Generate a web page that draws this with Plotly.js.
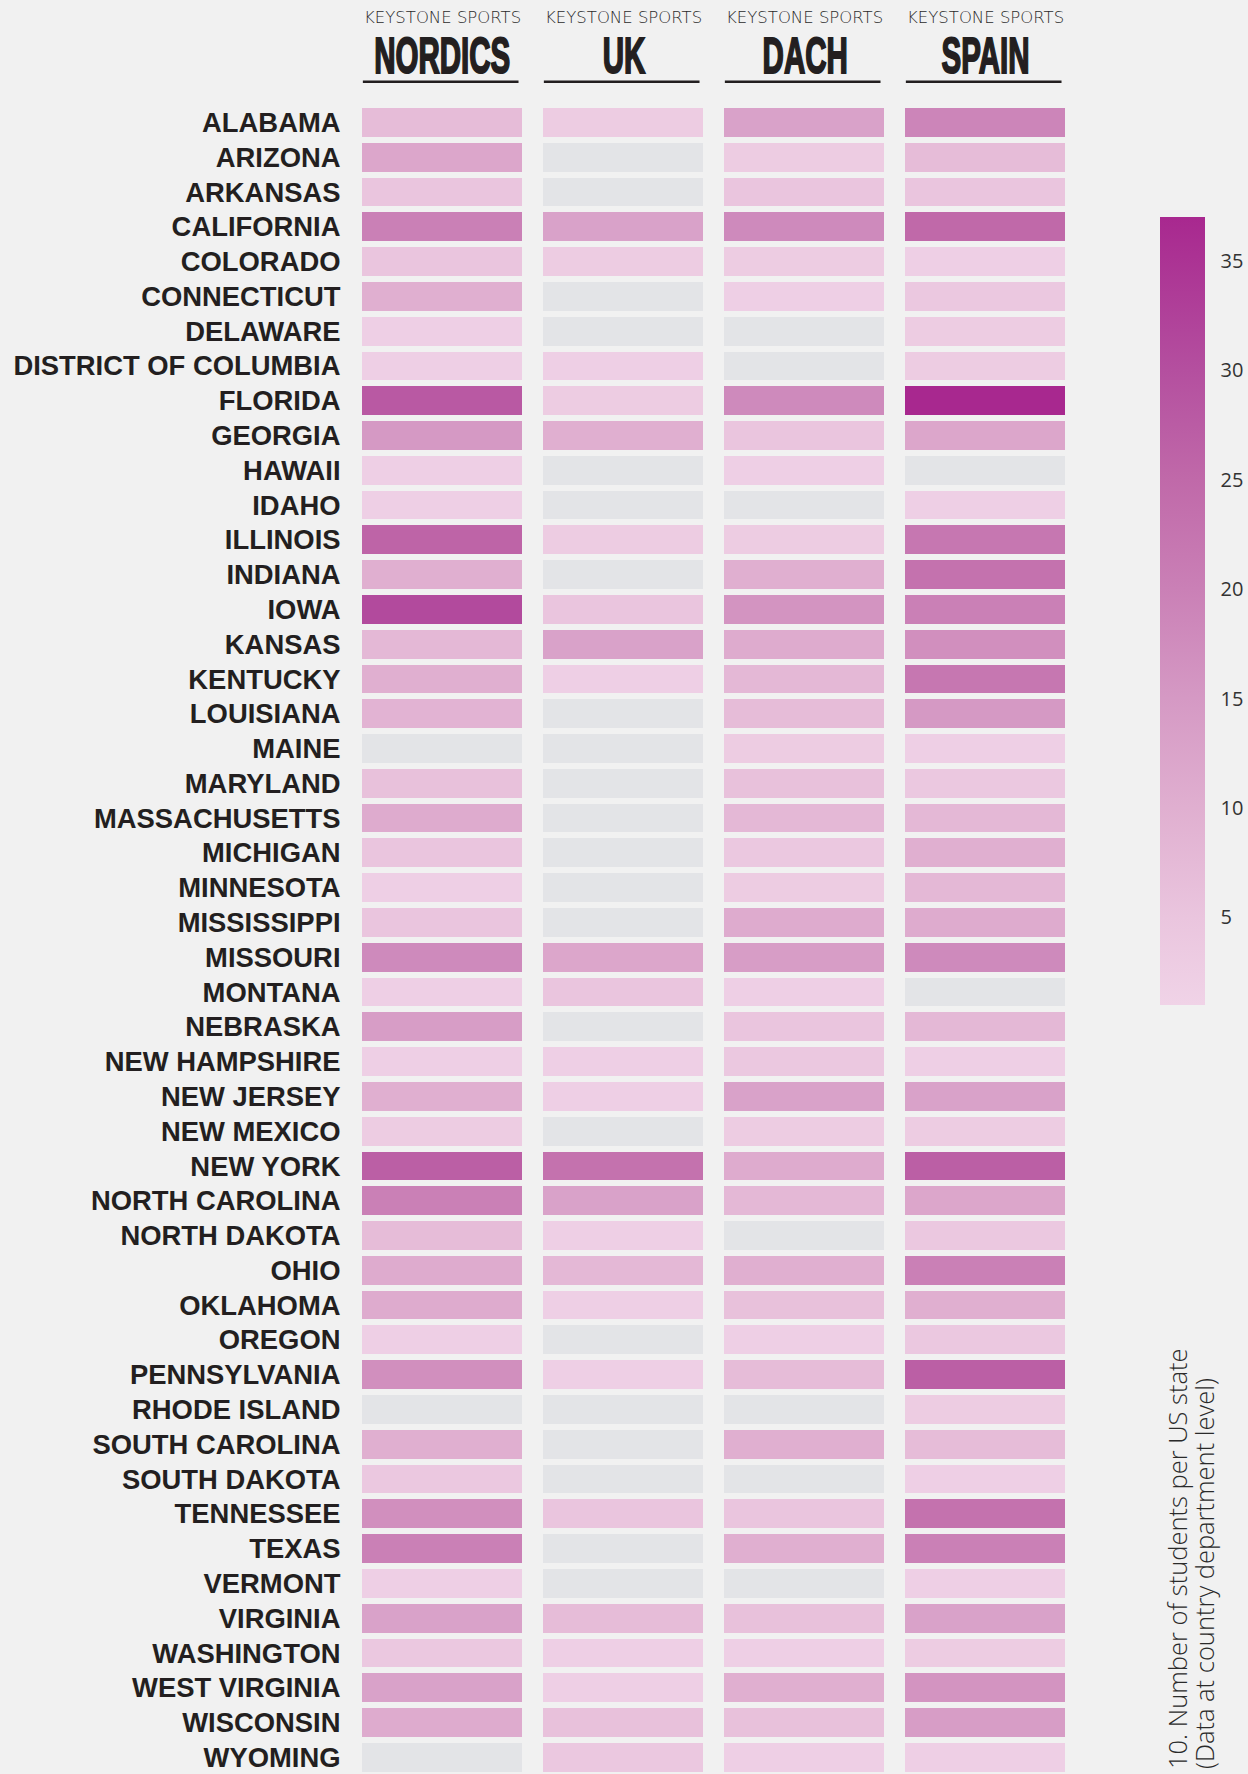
<!DOCTYPE html>
<html>
<head>
<meta charset="utf-8">
<script src="https://cdn.plot.ly/plotly-3.0.1.min.js"></script>
<style>
  html, body { margin: 0; padding: 0; background: #f1f1f1; }
  #chart { width: 1248px; height: 1774px; }
</style>
</head>
<body>
<div id="chart"></div>
<script>
// ---------------- DATA ----------------
const regions = ['NORDICS', 'UK', 'DACH', 'SPAIN'];
const kicker = 'KEYSTONE SPORTS';
const states = [
  'ALABAMA', 'ARIZONA', 'ARKANSAS', 'CALIFORNIA', 'COLORADO', 'CONNECTICUT',
  'DELAWARE', 'DISTRICT OF COLUMBIA', 'FLORIDA', 'GEORGIA', 'HAWAII', 'IDAHO',
  'ILLINOIS', 'INDIANA', 'IOWA', 'KANSAS', 'KENTUCKY', 'LOUISIANA', 'MAINE',
  'MARYLAND', 'MASSACHUSETTS', 'MICHIGAN', 'MINNESOTA', 'MISSISSIPPI',
  'MISSOURI', 'MONTANA', 'NEBRASKA', 'NEW HAMPSHIRE', 'NEW JERSEY',
  'NEW MEXICO', 'NEW YORK', 'NORTH CAROLINA', 'NORTH DAKOTA', 'OHIO',
  'OKLAHOMA', 'OREGON', 'PENNSYLVANIA', 'RHODE ISLAND', 'SOUTH CAROLINA',
  'SOUTH DAKOTA', 'TENNESSEE', 'TEXAS', 'VERMONT', 'VIRGINIA', 'WASHINGTON',
  'WEST VIRGINIA', 'WISCONSIN', 'WYOMING'
];
const nordics = [7, 12, 5, 20, 5, 10, 2, 2, 28, 15, 2, 2, 26, 10, 31, 8, 10, 9, null, 6,
  11, 5, 2, 5, 18, 2, 14, 2, 10, 3, 27, 20, 7, 11, 11, 2, 17, null, 10, 4, 17, 20, 2, 13,
  4, 13, 11, null];
const uk = [3, null, null, 13, 3, null, null, 2, 3, 10, null, null, 3, null, 5, 13, 2, null,
  null, null, null, null, null, null, 12, 5, null, 2, 2, null, 23, 13, 2, 8, 2, null, 2,
  null, null, null, 5, null, null, 7, 2, 2, 6, 4];
const dach = [13, 3, 5, 18, 3, 2, null, null, 18, 5, 2, null, 3, 10, 16, 11, 8, 7, 3, 6,
  8, 4, 3, 11, 14, 2, 5, 4, 13, 3, 11, 8, null, 10, 6, 2, 7, null, 10, null, 5, 10, null,
  6, 2, 10, 6, 2];
const spain = [19, 7, 5, 25, 2, 4, 3, 3, 37, 12, null, 2, 22, 23, 20, 17, 22, 15, 2, 4,
  8, 10, 8, 11, 18, null, 8, 2, 13, 3, 27, 12, 4, 20, 10, 4, 27, 3, 7, 2, 23, 20, 2, 13,
  3, 16, 14, 2];
const colorbarTicks = [5, 10, 15, 20, 25, 30, 35];
const titleLines = ['10. Number of students per US state', '(Data at country department level)'];

// ---------------- BUILD ----------------
const series = [nordics, uk, dach, spain];
const z = states.map((s, r) => series.map(col => col[r]));
const zBg = states.map(() => regions.map(() => 0));

const W = 1248, H = 1774;
const mL = 352, mR = 172, mT = 105, mB = 0;
const plotW = W - mL - mR, plotH = H - mT - mB;
const py = px => 1 + (mT - px) / plotH;       // pixel y -> paper y
const pxX = px => (px - mL) / plotW;          // pixel x -> paper x

const cellGapX = 21, cellGapY = 6;
const ink = '#231f20';

const colorscale = [
  [0.000, '#f0d3e7'],
  [0.111, '#eac5de'],
  [0.250, '#e0afd0'],
  [0.389, '#d599c4'],
  [0.528, '#ca80b6'],
  [0.667, '#c069a9'],
  [0.806, '#b44f9f'],
  [1.000, '#a8288f']
];

const bgTrace = {
  type: 'heatmap', x: regions, y: states, z: zBg,
  colorscale: [[0, '#e3e4e7'], [1, '#e3e4e7']],
  showscale: false, xgap: cellGapX, ygap: cellGapY, hoverinfo: 'skip'
};

const mainTrace = {
  type: 'heatmap', x: regions, y: states, z: z,
  zmin: 1, zmax: 37, colorscale: colorscale,
  xgap: cellGapX, ygap: cellGapY,
  colorbar: {
    thickness: 45, thicknessmode: 'pixels',
    len: 788, lenmode: 'pixels',
    x: pxX(1160), xanchor: 'left', xpad: 0,
    y: (H - 611) / plotH, yanchor: 'middle', ypad: 0,
    outlinewidth: 0,
    tickvals: colorbarTicks,
    ticks: 'outside', ticklen: 12, tickcolor: 'rgba(0,0,0,0)',
    tickfont: { family: 'Open Sans, sans-serif', size: 20, color: '#333333' }
  }
};

const annotations = [];
regions.forEach(r => annotations.push({
  xref: 'x', yref: 'paper', x: r, y: py(17.2), text: kicker, showarrow: false,
  xanchor: 'center', yanchor: 'middle',
  font: { family: 'DejaVu Sans, sans-serif', size: 16.5, color: '#2b2b2b', weight: 300 }
}));
regions.forEach(r => annotations.push({
  xref: 'x', yref: 'paper', x: r, y: py(55.5), text: r, showarrow: false,
  xanchor: 'center', yanchor: 'middle',
  font: { family: 'Liberation Sans, Arial, sans-serif', size: 50, color: ink, weight: 'bold' }
}));
const titleX = [1177, 1204];
titleLines.forEach((t, i) => annotations.push({
  xref: 'paper', yref: 'paper', x: pxX(titleX[i]), y: 0.0015, text: t,
  showarrow: false, textangle: -90, xanchor: 'center', yanchor: 'bottom',
  font: { family: 'Open Sans, sans-serif', size: 25.5, color: '#2a2a2a', weight: 300 }
}));

const shapes = regions.map((r, i) => ({
  type: 'line', xref: 'x', yref: 'paper',
  x0: i - 0.44, x1: i + 0.42, y0: py(81.7), y1: py(81.7),
  line: { color: ink, width: 2.5 }
}));

const layout = {
  width: W, height: H,
  margin: { l: mL, r: mR, t: mT, b: mB, pad: 0 },
  paper_bgcolor: '#f1f1f1', plot_bgcolor: '#f1f1f1',
  xaxis: { type: 'category', range: [-0.5, 3.5], showticklabels: false, showgrid: false,
           zeroline: false, showline: false, ticks: '' },
  yaxis: { type: 'category', range: [47.48, -0.5], showgrid: false, zeroline: false,
           showline: false, ticks: 'outside', ticklen: 5, tickcolor: 'rgba(0,0,0,0)',
           tickfont: { family: 'Liberation Sans, Arial, sans-serif', size: 27.4, color: ink, weight: 'bold' } },
  annotations: annotations,
  shapes: shapes,
  showlegend: false
};

Plotly.newPlot('chart', [bgTrace, mainTrace], layout, { displayModeBar: false, staticPlot: true })
  .then(() => {
    // condense the big region titles horizontally (condensed display face)
    document.querySelectorAll('g.annotation').forEach(g => {
      const idx = +g.getAttribute('data-index');
      if (idx >= 4 && idx <= 7) {
        const t = g.querySelector('text.annotation-text');
        if (t) {
          const cx = parseFloat(t.getAttribute('x')) || 0;
          t.setAttribute('transform', `translate(${cx},0) scale(0.59,1) translate(${-cx},0)`);
          t.style.stroke = ink;
          t.style.strokeWidth = '2px';
        }
      }
    });
  });
</script>
</body>
</html>
